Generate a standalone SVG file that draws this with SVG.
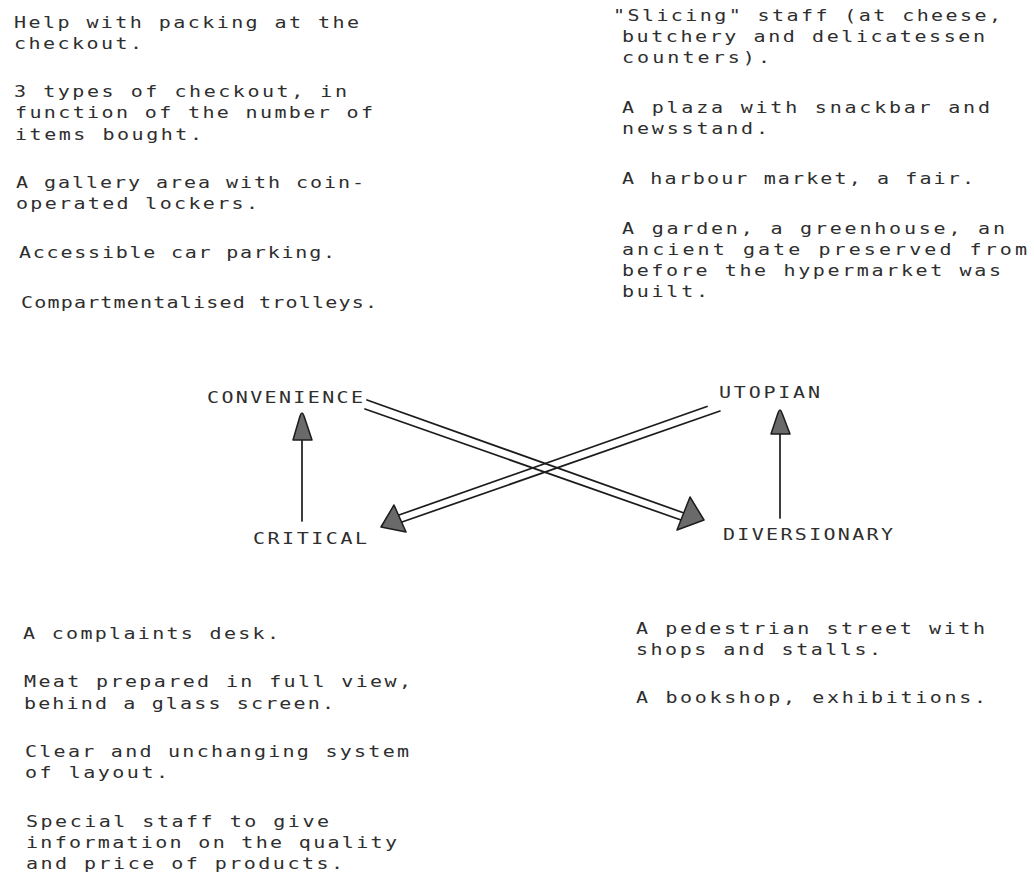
<svg xmlns="http://www.w3.org/2000/svg" width="1034" height="877" viewBox="0 0 1034 877">
  <style>
    .t { font-family: "DejaVu Sans Mono", "Liberation Mono", monospace; font-size: 20px; fill: #2e2e2e; }
    .ln { stroke: #1c1c1c; stroke-width: 1.7; fill: none; stroke-linecap: round; }
    .hd { fill: #6a6a6a; stroke: #1c1c1c; stroke-width: 1.5; stroke-linejoin: round; }
  </style>
  <rect width="1034" height="877" fill="#ffffff"/>

  <g id="convenience-examples" transform="scale(1,0.8)">
    <text class="t" x="14" y="35" textLength="345" lengthAdjust="spacing">Help with packing at the</text>
    <text class="t" x="14" y="61.25" textLength="128" lengthAdjust="spacing">checkout.</text>
    <text class="t" x="14" y="121.25" textLength="333" lengthAdjust="spacing">3 types of checkout, in</text>
    <text class="t" x="15" y="147.5" textLength="358" lengthAdjust="spacing">function of the number of</text>
    <text class="t" x="15" y="175" textLength="187" lengthAdjust="spacing">items bought.</text>
    <text class="t" x="16" y="235" textLength="348" lengthAdjust="spacing">A gallery area with coin-</text>
    <text class="t" x="16" y="261.25" textLength="242" lengthAdjust="spacing">operated lockers.</text>
    <text class="t" x="19" y="322.5" textLength="316" lengthAdjust="spacing">Accessible car parking.</text>
    <text class="t" x="21" y="385" textLength="356" lengthAdjust="spacing">Compartmentalised trolleys.</text>
  </g>

  <g id="utopian-examples" transform="scale(1,0.8)">
    <text class="t" x="613" y="26.25" textLength="388" lengthAdjust="spacing">"Slicing" staff (at cheese,</text>
    <text class="t" x="622" y="52.5" textLength="363" lengthAdjust="spacing">butchery and delicatessen</text>
    <text class="t" x="622" y="78.75" textLength="148" lengthAdjust="spacing">counters).</text>
    <text class="t" x="622" y="141.25" textLength="368" lengthAdjust="spacing">A plaza with snackbar and</text>
    <text class="t" x="622" y="167.5" textLength="146" lengthAdjust="spacing">newsstand.</text>
    <text class="t" x="622" y="230" textLength="352" lengthAdjust="spacing">A harbour market, a fair.</text>
    <text class="t" x="622" y="292.5" textLength="383" lengthAdjust="spacing">A garden, a greenhouse, an</text>
    <text class="t" x="622" y="318.75" textLength="405" lengthAdjust="spacing">ancient gate preserved from</text>
    <text class="t" x="622" y="345" textLength="379" lengthAdjust="spacing">before the hypermarket was</text>
    <text class="t" x="622" y="371.25" textLength="86" lengthAdjust="spacing">built.</text>
  </g>

  <g id="critical-examples" transform="scale(1,0.8)">
    <text class="t" x="23" y="798.75" textLength="256" lengthAdjust="spacing">A complaints desk.</text>
    <text class="t" x="24" y="858.75" textLength="387" lengthAdjust="spacing">Meat prepared in full view,</text>
    <text class="t" x="24" y="886.25" textLength="310" lengthAdjust="spacing">behind a glass screen.</text>
    <text class="t" x="25" y="946.25" textLength="384" lengthAdjust="spacing">Clear and unchanging system</text>
    <text class="t" x="25" y="972.5" textLength="143" lengthAdjust="spacing">of layout.</text>
    <text class="t" x="26" y="1033.75" textLength="303" lengthAdjust="spacing">Special staff to give</text>
    <text class="t" x="26" y="1060" textLength="371" lengthAdjust="spacing">information on the quality</text>
    <text class="t" x="26" y="1086.25" textLength="317" lengthAdjust="spacing">and price of products.</text>
  </g>

  <g id="diversionary-examples" transform="scale(1,0.8)">
    <text class="t" x="636" y="792.5" textLength="349" lengthAdjust="spacing">A pedestrian street with</text>
    <text class="t" x="636" y="818.75" textLength="245" lengthAdjust="spacing">shops and stalls.</text>
    <text class="t" x="636" y="878.75" textLength="350" lengthAdjust="spacing">A bookshop, exhibitions.</text>
  </g>

  <g id="node-convenience"><text class="t" transform="scale(1,0.8)" x="207" y="503.75" textLength="156" lengthAdjust="spacing">CONVENIENCE</text></g>
  <g id="node-utopian"><text class="t" transform="scale(1,0.8)" x="719" y="497.5" textLength="101" lengthAdjust="spacing">UTOPIAN</text></g>
  <g id="node-critical"><text class="t" transform="scale(1,0.8)" x="253" y="680" textLength="114" lengthAdjust="spacing">CRITICAL</text></g>
  <g id="node-diversionary"><text class="t" transform="scale(1,0.8)" x="723" y="675" textLength="170" lengthAdjust="spacing">DIVERSIONARY</text></g>

  <g id="connectors">
    <g id="edge-critical-convenience">
      <line class="ln" x1="302" y1="521" x2="302" y2="440"/>
      <path class="hd" d="M293,440 L300,416 Q302,410 304,416 L312,440 Z"/>
    </g>
    <g id="edge-diversionary-utopian">
      <line class="ln" x1="780" y1="518" x2="780" y2="434"/>
      <path class="hd" d="M771,434 L778,413 Q780,407 782,413 L790,434 Z"/>
    </g>
    <g id="edge-convenience-diversionary">
      <line class="ln" x1="367" y1="400" x2="684" y2="513"/>
      <line class="ln" x1="365" y1="409" x2="681" y2="520"/>
      <polygon class="hd" points="690,497 704,520 677,530"/>
    </g>
    <g id="edge-utopian-critical">
      <line class="ln" x1="707" y1="406.5" x2="399" y2="515"/>
      <line class="ln" x1="720" y1="411" x2="402" y2="522"/>
      <polygon class="hd" points="394,505 381,527 406,532"/>
    </g>
  </g>
</svg>
